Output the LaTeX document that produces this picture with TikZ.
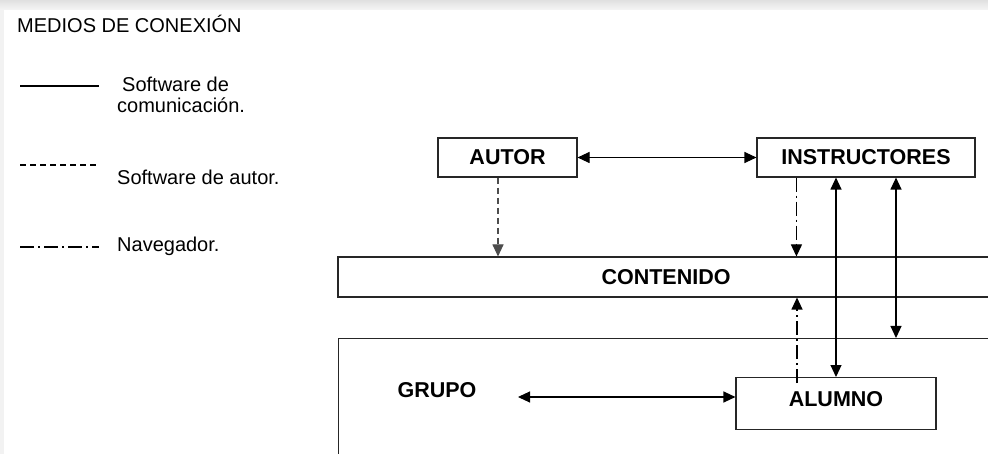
\documentclass[tikz,border=0pt]{standalone}
\usepackage{fontspec}
\setmainfont{Liberation Sans}
\usetikzlibrary{arrows.meta}

\begin{document}
\begin{tikzpicture}[x=1pt,y=-1pt,
  caja/.style={draw=black!85,line width=1.1pt,rectangle,inner sep=0pt,font=\fontsize{21.5}{24}\selectfont\bfseries},
  leyenda/.style={anchor=base west,inner sep=0pt,font=\fontsize{20}{24}\selectfont},
  comline/.style={line width=1.1pt},
  autline/.style={line width=1.1pt,dash pattern=on 6pt off 4pt},
  navline/.style={line width=1.1pt,dash pattern=on 14pt off 4pt on 2pt off 4pt},
  >={Triangle[length=12pt,width=11pt]}]
\useasboundingbox (0,0) rectangle (988,454);
\clip (0,0) rectangle (988,454);
\shade[top color=black!12,bottom color=black!4] (0,0) rectangle (988,10);
\fill[black!5] (0,10) rectangle (4,454);
\fill[white] (4,10) rectangle (988,454);
% leyenda
\node[leyenda] (titulo) at (17,33) {MEDIOS DE CONEXIÓN};
\foreach \sty/\ypos in {comline/86,autline/165,navline/247}
  {  \draw[\sty] (20,\ypos) -- (99,\ypos);}
\node[leyenda] (comA) at (122,92) {Software de};
\node[leyenda] (comB) at (117,113) {comunicación.};
\node[leyenda] (aut) at (117,185) {Software de autor.};
\node[leyenda] (nav) at (117,252) {Navegador.};
% cajas
\node[caja,minimum width=139pt,minimum height=39pt] (autor) at (507.5,157.5) {AUTOR};
\node[caja,minimum width=218pt,minimum height=39pt] (instr) at (866,157.5) {INSTRUCTORES};
\node[caja,minimum width=656pt,minimum height=40pt] (contenido) at (666,277) {CONTENIDO};
\node[caja,minimum width=670pt,minimum height=140pt,anchor=north west] (grupo) at (338,338) {};
\node[font=\fontsize{21.5}{24}\selectfont\bfseries] (grupotxt) at (437,390) {GRUPO};
\node[caja,anchor=north,text width=200pt,align=center,text height=28.7pt,text depth=23.3pt] (alumno) at (836,377) {ALUMNO};
% conexiones
\coordinate (autA) at ([xshift=-9.5pt]autor.south);
\coordinate (navB) at ([xshift=40pt]instr.south west);
\coordinate (comC) at ([xshift=30pt]instr.south);
\coordinate (navA) at ([xshift=-39pt,yshift=-6pt]alumno.north);
\coordinate (g) at (518,397);
\draw[comline,<->] (autor) -- (instr);
\draw[autline,->,draw=black!70] (autA) -- (autA |- contenido.north);
\draw[navline,->] (navB) -- (navB |- contenido.north);
\draw[comline,<->] (alumno.north) -- (alumno.north |- instr.south);
\draw[comline,<->] (comC) -- (comC |- grupo.north);
\draw[navline,->] (navA) -- (navA |- contenido.south);
\draw[comline,<->] (g) -- (g -| alumno.west);
\end{tikzpicture}
\end{document}
